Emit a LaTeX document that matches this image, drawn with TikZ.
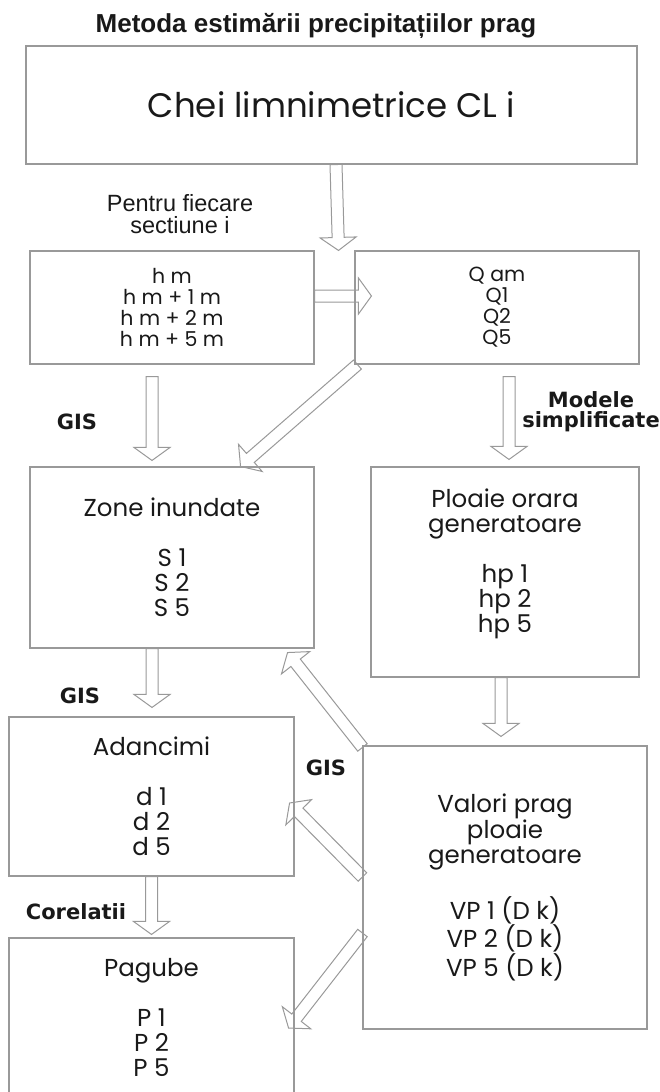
\documentclass[tikz,border=0pt]{standalone}
\usepackage{fontspec}
\setmainfont{Poppins}
\newfontfamily\titlefont{Liberation Sans}
\newfontfamily\notefont{DejaVu Sans}
\usetikzlibrary{calc, backgrounds}

\definecolor{framegray}{gray}{0.6}
\definecolor{inkgray}{gray}{0.1}

\tikzset{
	box/.style = {draw = framegray, line width = 1.1pt, inner sep = 0pt, align = center, text = inkgray},
	bigtext/.style = {font = \fontsize{24.5}{25}\selectfont},
	smalltext/.style = {font = \fontsize{20.5}{21}\selectfont},
	note/.style = {font = \notefont\bfseries\fontsize{21}{20}\selectfont, text = inkgray, align = center},
	hollow/.style = {draw = framegray, fill = white, line width = 1pt,
		to path = {let \p1 = (\tikztostart), \p2 = (\tikztotarget),
			\n1 = {atan2(\y2 - \y1, \x2 - \x1)} in
			($(\p1) + ({\n1 + 90}:6pt)$)
			-- ($(\p2) + (\n1:-13pt) + ({\n1 + 90}:6pt)$)
			-- ($(\p2) + (\n1:-13pt) + ({\n1 + 90}:18pt)$)
			-- (\p2)
			-- ($(\p2) + (\n1:-13pt) + ({\n1 - 90}:18pt)$)
			-- ($(\p2) + (\n1:-13pt) + ({\n1 - 90}:6pt)$)
			-- ($(\p1) + ({\n1 - 90}:6pt)$) -- cycle}}
}

\begin{document}
\begin{tikzpicture}[x = 1pt, y = -1pt]

	\useasboundingbox (0, 0) rectangle (660, 1092);
	\clip (0, 0) rectangle (660, 1092);

	% Title

	\node [anchor = base, font = \titlefont\bfseries\fontsize{26}{30}\selectfont, text = inkgray] (title) at (316, 32) {Metoda estimării precipitațiilor prag};

	% Boxes

	\node [box, minimum width = 611pt, minimum height = 118pt, font = \fontsize{34}{36}\selectfont] (chei) at (331.5, 105) {Chei limnimetrice CL i};

	\node [box, smalltext, minimum width = 284pt, minimum height = 113pt] (hm) at (172, 307.5) {h m\\h m + 1 m\\h m + 2 m\\h m + 5 m};
	\node [box, smalltext, minimum width = 284pt, minimum height = 113pt] (q) at (497, 307.5) {Q am\\Q1\\Q2\\Q5};

	\node [box, bigtext, minimum width = 284pt, minimum height = 181pt] (zone) at (172, 557.5) {Zone inundate\\[25pt]S 1\\S 2\\S 5};
	\node [box, minimum width = 268pt, minimum height = 210pt,
		label = {[bigtext, align = center, text = inkgray, yshift = 8.5pt]center:{Ploaie orara\\generatoare\\[25pt]hp 1\\hp 2\\hp 5}}] (ploaie) at (505, 572) {};

	\node [box, bigtext, minimum width = 285pt, minimum height = 159pt] (adanc) at (151.5, 796.5) {Adancimi\\[25pt]d 1\\d 2\\d 5};
	\node [box, bigtext, minimum width = 284pt, minimum height = 283pt] (valori) at (505, 887.5) {Valori prag\\ploaie\\generatoare\\[25pt]VP 1 (D k)\\VP 2 (D k)\\VP 5 (D k)};
	\node [box, bigtext, minimum width = 285pt, minimum height = 159pt] (pagube) at (151.5, 1017.5) {Pagube\\[25pt]P 1\\P 2\\P 5};

	% Side notes

	\node [font = \titlefont\fontsize{23.5}{22}\selectfont, text = inkgray, align = center] (pentru) at (180, 214) {Pentru fiecare\\sectiune i};
	\node [note] (gisa) at (77, 422) {GIS};
	\node [note] (modele) at (591, 412) {Modele\\simplificate};
	\node [note] (gisb) at (80, 696) {GIS};
	\node [note] (gisc) at (326, 768) {GIS};
	\node [note] (corel) at (76, 912) {Corelatii};

	% Block arrows

	\begin{scope}[on background layer]
		\draw [hollow] ([xshift = 4.5pt] chei.south) to ([xshift = 4pt] $(hm.north east)!0.5!(q.north west)$);
		\draw [hollow] ([yshift = 11.5pt] hm.east) to ([xshift = 17pt, yshift = 11.5pt] q.west);
		\draw [hollow] ([xshift = -20pt, yshift = -12pt] hm.south) to ([xshift = -20pt, yshift = 6pt] zone.north);
		\draw [hollow] ([xshift = 12pt, yshift = -12pt] q.south) to ([xshift = 4pt, yshift = 7pt] ploaie.north);
		\draw [hollow] ([xshift = 3pt] q.south west) to ([xshift = -74pt] zone.north east);
		\draw [hollow] ([xshift = -20pt] zone.south) to ([xshift = 0.5pt, yshift = 9pt] adanc.north);
		\draw [hollow] (adanc.south) to ([yshift = 3pt] pagube.north);
		\draw [hollow] ([xshift = -4pt] ploaie.south) to ([xshift = -4pt, yshift = 9pt] valori.north);
		\draw [hollow] ([yshift = -2pt] valori.north west) to ([xshift = -27pt, yshift = -4pt] zone.south east);
		\draw [hollow] ([yshift = 10.5pt] valori.west) to ([xshift = -5pt, yshift = -6.5pt] adanc.east);
		\draw [hollow] ([yshift = -45.5pt] valori.west) to ([xshift = -6pt, yshift = -10.5pt] pagube.east);
	\end{scope}

\end{tikzpicture}
\end{document}
